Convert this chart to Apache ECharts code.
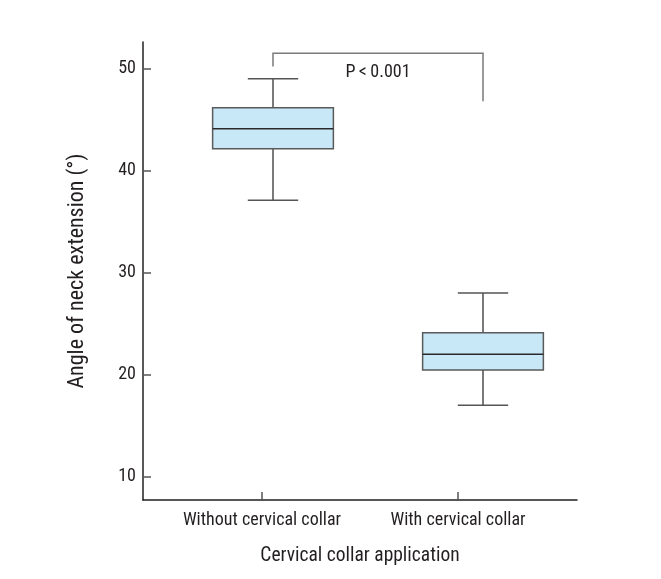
<!DOCTYPE html>
<html>
<head>
<meta charset="utf-8">
<script src="https://cdn.jsdelivr.net/npm/echarts@6/dist/echarts.min.js"></script>
<style>html,body{margin:0;padding:0;background:#fff}#c{width:661px;height:579px}</style>
</head>
<body>
<div id="c"></div>
<script>
const categories = ['Without cervical collar', 'With cervical collar'];
// [lower whisker, Q1, median, Q3, upper whisker]
const boxValues = [
  [37.1, 42.15, 44.1, 46.15, 49.0],
  [17.0, 20.45, 22.0, 24.1, 28.0]
];
const yTicks = [10, 20, 30, 40, 50];
const pText = 'P\u2009<\u20090.001';
// bracket: [left drop end, bar level, right drop end]
const bracket = [50.2, 51.5, 46.8];
const FONT = "'Liberation Sans Narrow', 'Roboto Condensed', 'Liberation Sans', sans-serif";

const chart = echarts.init(document.getElementById('c'), null, {renderer: 'canvas'});
const yMin = 7.72, yMax = 52.6;

chart.setOption({
  animation: false,
  grid: [
    {left: 143, right: 84, top: 42, bottom: 79},
    {left: 168, right: 73, top: 42, bottom: 79}
  ],
  xAxis: [
    {
      type: 'value', gridIndex: 0, min: -0.607, max: 1.607,
      name: 'Cervical collar application', nameLocation: 'middle', nameGap: 46,
      nameTextStyle: {fontFamily: FONT, fontSize: 19.5, color: '#231f20'},
      axisLine: {show: true, onZero: false, lineStyle: {color: '#231f20', width: 1.5}},
      axisTick: {show: true, inside: true, length: 8, customValues: [0, 1], lineStyle: {color: '#555', width: 1.5}},
      axisLabel: {customValues: [0, 1], formatter: v => categories[Math.round(v)], margin: 11,
        fontFamily: FONT, fontSize: 18, color: '#231f20'},
      splitLine: {show: false}
    },
    {
      type: 'category', gridIndex: 1, data: categories, show: false
    }
  ],
  yAxis: [
    {
      type: 'value', gridIndex: 0, min: yMin, max: yMax,
      name: 'Angle of neck extension (\u00b0)', nameLocation: 'middle', nameGap: 55, nameRotate: 90,
      nameTextStyle: {fontFamily: FONT, fontSize: 22, color: '#231f20'},
      axisLine: {show: true, onZero: false, lineStyle: {color: '#231f20', width: 1.5}},
      axisTick: {show: true, inside: true, length: 8, customValues: yTicks, lineStyle: {color: '#555', width: 1.5}},
      axisLabel: {customValues: yTicks, margin: 7, fontFamily: FONT, fontSize: 18, color: '#231f20'},
      splitLine: {show: false}
    },
    {
      type: 'value', gridIndex: 1, min: yMin, max: yMax, show: false, splitLine: {show: false}
    }
  ],
  series: [
    {
      type: 'custom', xAxisIndex: 1, yAxisIndex: 1,
      data: boxValues.map((b, i) => [i].concat(b)),
      renderItem: function (params, api) {
        const i = api.value(0);
        const band = api.size([1, 0])[0];
        const bw = band * 0.575, cw = band * 0.24;
        const lo = api.coord([i, api.value(1)]);
        const q1 = api.coord([i, api.value(2)]);
        const md = api.coord([i, api.value(3)]);
        const q3 = api.coord([i, api.value(4)]);
        const hi = api.coord([i, api.value(5)]);
        const x = lo[0];
        const grey = {stroke: '#7a7a7a', lineWidth: 2};
        return {
          type: 'group',
          children: [
            {type: 'line', shape: {x1: x, y1: hi[1], x2: x, y2: q3[1]}, style: grey},
            {type: 'line', shape: {x1: x, y1: q1[1], x2: x, y2: lo[1]}, style: grey},
            {type: 'line', shape: {x1: x - cw / 2, y1: hi[1], x2: x + cw / 2, y2: hi[1]}, style: {stroke: '#555', lineWidth: 1.5}},
            {type: 'line', shape: {x1: x - cw / 2, y1: lo[1], x2: x + cw / 2, y2: lo[1]}, style: {stroke: '#555', lineWidth: 1.5}},
            {type: 'rect', shape: {x: x - bw / 2, y: q3[1], width: bw, height: q1[1] - q3[1]},
              style: {fill: '#c8e8f8', stroke: '#5a5a5a', lineWidth: 1.5}},
            {type: 'line', shape: {x1: x - bw / 2, y1: md[1], x2: x + bw / 2, y2: md[1]}, style: {stroke: '#2a2a2a', lineWidth: 1.5}}
          ]
        };
      }
    },
    {
      type: 'custom', xAxisIndex: 1, yAxisIndex: 1,
      data: [[0, 1, bracket[0], bracket[1], bracket[2]]],
      renderItem: function (params, api) {
        const a = api.coord([api.value(0), api.value(2)]);
        const top0 = api.coord([api.value(0), api.value(3)]);
        const top1 = api.coord([api.value(1), api.value(3)]);
        const b = api.coord([api.value(1), api.value(4)]);
        return {
          type: 'group',
          children: [
            {type: 'polyline', shape: {points: [a, top0, top1, b]},
              style: {stroke: '#7a7a7a', lineWidth: 1.5, fill: null}},
            {type: 'text', x: (top0[0] + top1[0]) / 2, y: top0[1] + 19,
              style: {text: pText, fill: '#231f20', font: '18px ' + FONT, align: 'center', verticalAlign: 'middle'}}
          ]
        };
      }
    }
  ]
});
</script>
</body>
</html>
